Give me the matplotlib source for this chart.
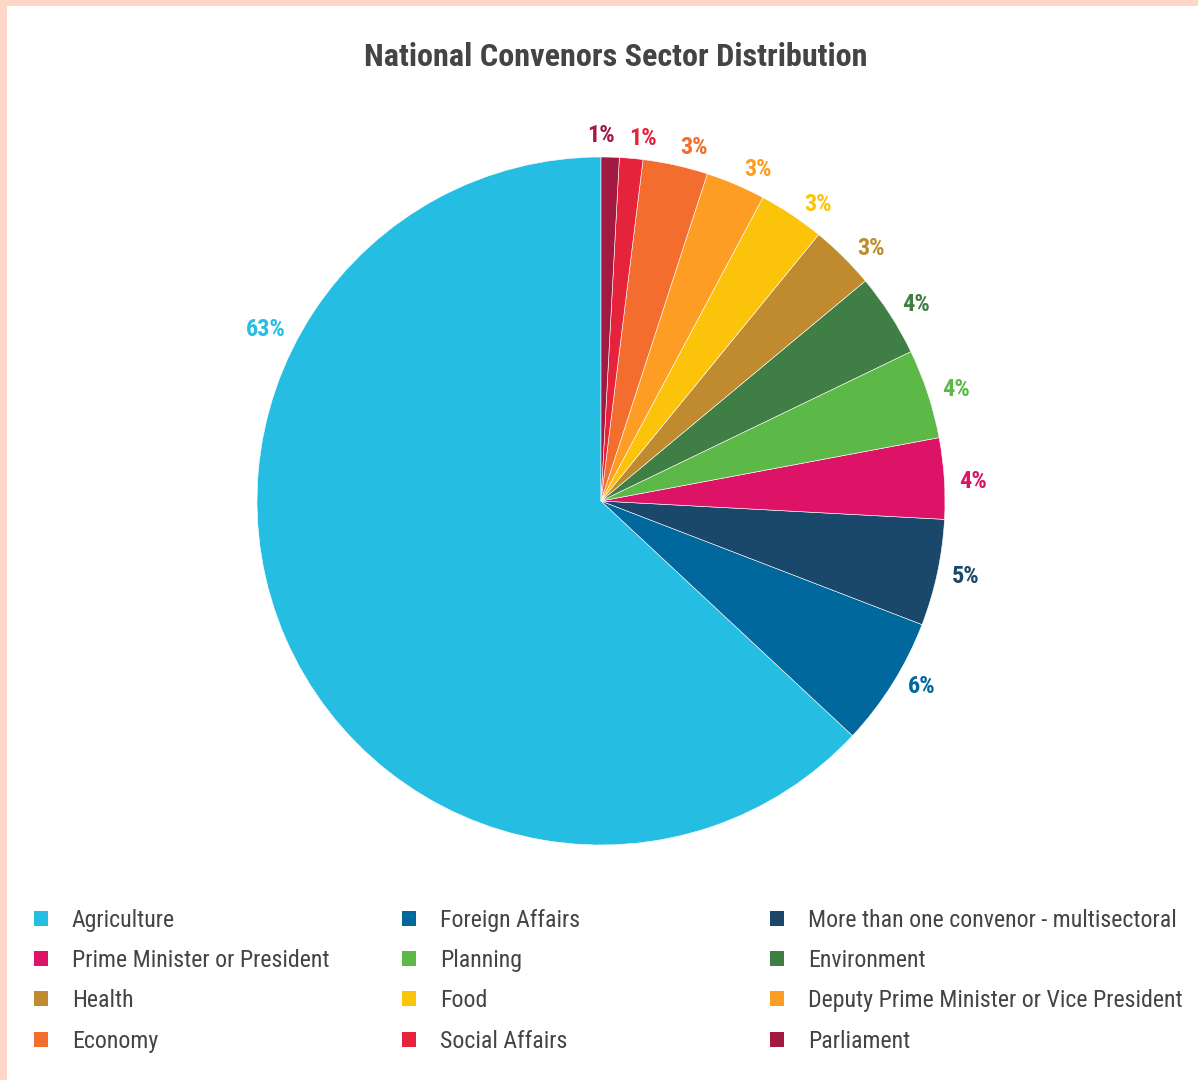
import numpy as np
import matplotlib.pyplot as plt
from matplotlib.patches import Rectangle, Patch

plt.rcParams['font.family'] = ['Roboto Condensed', 'Roboto', 'DejaVu Sans']

sectors = ['Agriculture', 'Foreign Affairs', 'More than one convenor - multisectoral',
           'Prime Minister or President', 'Planning', 'Environment',
           'Health', 'Food', 'Deputy Prime Minister or Vice President',
           'Economy', 'Social Affairs', 'Parliament']
shares = [63.05, 6.1, 5.0, 3.8, 4.2, 3.9, 3.05, 3.1, 2.8, 3.05, 1.1, 0.85]
colors = ['#26BDE2', '#00689D', '#19486A', '#DD1367', '#5CB947', '#3F7E44',
          '#BF8B2E', '#FCC30B', '#FD9D24', '#F36D2F', '#E5243B', '#A21942']

# where the original spread its data labels (degrees clockwise from top)
label_angles = [-62, 120.6, 102, 87, 72.2, 57.5, 46.3, 35.6, 24.9, 14.5, 6.4, 0.0]

W, H = 1198, 1080
fig = plt.figure(figsize=(W / 100, H / 100), dpi=100)
fig.patch.set_facecolor('white')

# peach frame on top and left
fig.patches.append(Rectangle((0, 1 - 6 / H), 1, 6 / H, transform=fig.transFigure,
                             facecolor='#FED7C9', edgecolor='none'))
fig.patches.append(Rectangle((0, 0), 7 / W, 1, transform=fig.transFigure,
                             facecolor='#FED7C9', edgecolor='none'))

cx, cy, r = 601, H - 501, 344
ax = fig.add_axes([(cx - r) / W, (cy - r) / H, 2 * r / W, 2 * r / H])
wedges, texts, autotexts = ax.pie(shares, colors=colors, startangle=90, counterclock=True,
                                  autopct='%.0f%%', pctdistance=1.085,
                                  wedgeprops=dict(edgecolor='white', linewidth=0.4))

gap = 16 / r
for i, t in enumerate(autotexts):
    t.set_color(colors[i])
    t.set_fontsize(17.5)
    t.set_fontweight('bold')
    th = np.deg2rad(90 - label_angles[i])
    # label box sits a fixed gap outside the rim
    hw = 6.5 * len(t.get_text()) / r
    hh = 5 / r
    ux, uy = np.cos(th), np.sin(th)
    t.set_position(((1 + gap) * ux + hw * ux, (1 + gap) * uy + hh * uy))

ax.set_xlim(-1, 1)
ax.set_ylim(-1, 1)
ax.set_aspect('equal')

fig.text(616 / W, 1 - 57 / H, 'National Convenors Sector Distribution', ha='center', va='center',
         fontsize=23.2, fontweight='bold', color='#444444')

# legend, row-major in three columns
col_x = [34, 402, 770]
for k in range(3):
    idx = [k, k + 3, k + 6, k + 9]
    handles = [Patch(facecolor=colors[i], edgecolor='none') for i in idx]
    fig.legend(handles, [sectors[i] for i in idx], loc='upper left',
               bbox_to_anchor=(col_x[k] / W, 1 - 909 / H), frameon=False,
               fontsize=17.2, handlelength=0.59, handleheight=0.59, handletextpad=1.0,
               labelspacing=0.72, borderpad=0, borderaxespad=0, labelcolor='#444444')

fig.savefig('out.png', dpi=100)
